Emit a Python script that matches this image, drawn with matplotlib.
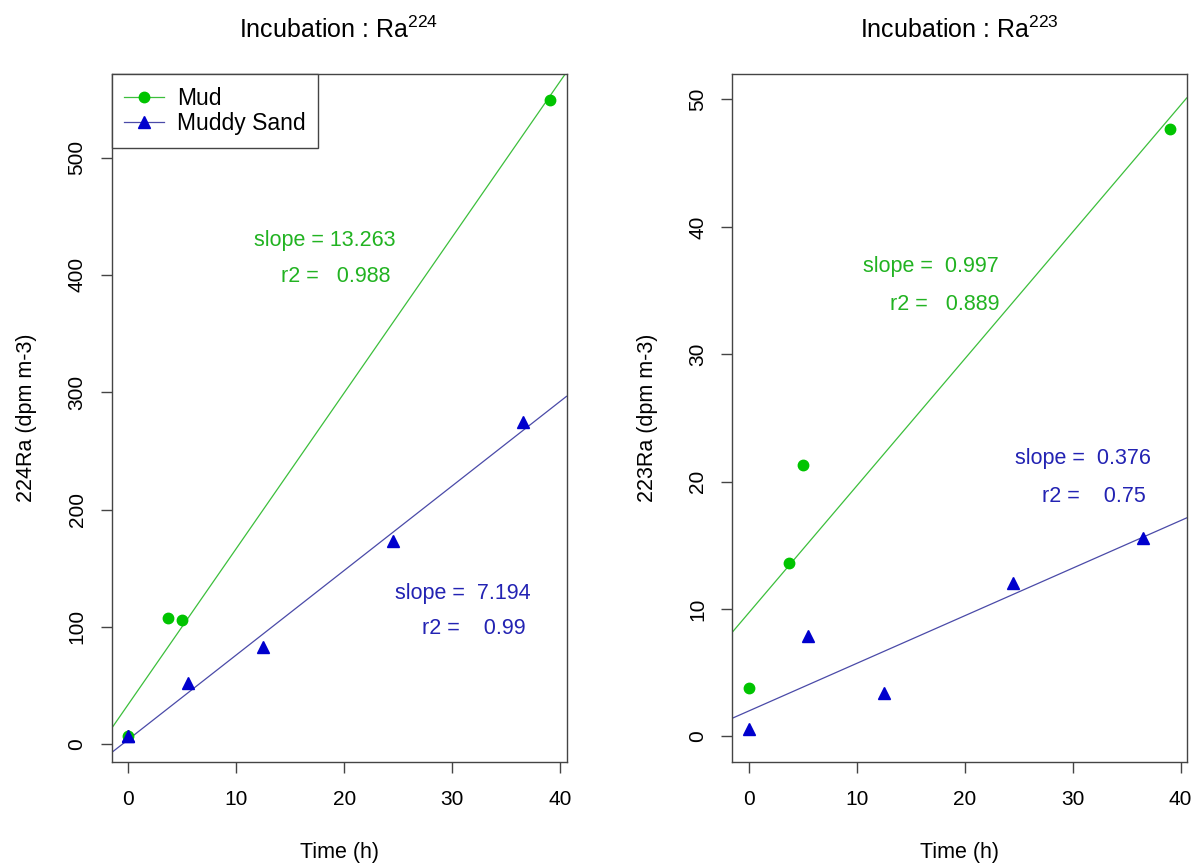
import numpy as np
import matplotlib
matplotlib.use("Agg")
import matplotlib.pyplot as plt
from matplotlib.lines import Line2D

plt.rcParams['font.family'] = ['Liberation Sans', 'DejaVu Sans']
plt.rcParams['mathtext.fontset'] = 'custom'
plt.rcParams['mathtext.rm'] = 'Liberation Sans'
plt.rcParams['mathtext.it'] = 'Liberation Sans'

# ---- data ----
mud_time = [0, 3.7, 5.0, 39.0]
sand_time = [0, 5.5, 12.5, 24.5, 36.5]

ra224_mud = [7.0, 107.7, 106.3, 549.0]
ra224_sand = [7.0, 52.0, 83.0, 173.0, 275.0]

ra223_mud = [3.8, 13.6, 21.3, 47.7]
ra223_sand = [0.6, 7.9, 3.4, 12.0, 15.6]

series_names = ["Mud", "Muddy Sand"]
titles = [r"Incubation : Ra$^{224}$", r"Incubation : Ra$^{223}$"]
ylabels = ["224Ra (dpm m-3)", "223Ra (dpm m-3)"]
xlabel = "Time (h)"

stats224 = [("slope = 13.263", "r2 =   0.988"), ("slope =  7.194", "r2 =    0.99")]
stats223 = [("slope =  0.997", "r2 =   0.889"), ("slope =  0.376", "r2 =    0.75")]

# ---- styling ----
pt_green = '#00c400'
pt_blue = '#0000cd'
ln_green = '#3cbf3c'
ln_blue = '#4a4aa8'
tx_green = '#22b322'
tx_blue = '#2323b3'
spine_col = '#444444'

fig = plt.figure(figsize=(12.01, 8.63), dpi=100)
W, H = 1201, 863

def make_ax(x0, x1, y0, y1):
    return fig.add_axes([x0 / W, 1 - y1 / H, (x1 - x0) / W, (y1 - y0) / H])

ax1 = make_ax(111.5, 566.5, 74, 762)
ax2 = make_ax(732.3, 1186.7, 74, 762)

panels = [
    (ax1, ra224_mud, ra224_sand, titles[0], ylabels[0], (-15.1, 571.2),
     [0, 100, 200, 300, 400, 500], stats224,
     [(11.6, 424.5), (14.1, 394.0)], [(24.67, 124.2), (27.15, 93.8)]),
    (ax2, ra223_mud, ra223_sand, titles[1], ylabels[1], (-2.02, 52.0),
     [0, 10, 20, 30, 40, 50], stats223,
     [(10.58, 36.47), (13.06, 33.46)], [(24.66, 21.37), (27.14, 18.36)]),
]

TRI_MS = 8.5
CIR_MS = 7.5

for ax, ymud, ysand, title, ylab, ylim, yticks, stats, gpos, bpos in panels:
    # regression lines
    sm, im = np.polyfit(mud_time, ymud, 1)
    ss, is_ = np.polyfit(sand_time, ysand, 1)
    ax.axline((0, im), slope=sm, color=ln_green, lw=0.9, zorder=2)
    ax.axline((0, is_), slope=ss, color=ln_blue, lw=0.9, zorder=2)
    # points
    ax.plot(sand_time, ysand, linestyle='none', marker='^', ms=TRI_MS,
            color=pt_blue, zorder=3)
    ax.plot(mud_time, ymud, linestyle='none', marker='o', ms=CIR_MS,
            color=pt_green, zorder=3)
    if ax is ax1:
        # mud point at t=0 is hidden under the triangle in the reference
        ax.plot(sand_time[:1], ysand[:1], linestyle='none', marker='^', ms=TRI_MS,
                color=pt_blue, zorder=4)

    ax.set_xlim(-1.56, 40.56)
    ax.set_ylim(*ylim)
    ax.set_xticks([0, 10, 20, 30, 40])
    ax.set_yticks(yticks)
    ax.tick_params(axis='both', direction='out', length=8, width=1.0,
                   color=spine_col, labelsize=15, labelcolor='black')
    ax.tick_params(axis='x', pad=12)
    ax.tick_params(axis='y', pad=10)
    for lab in ax.get_yticklabels():
        lab.set_rotation(90)
        lab.set_va('center')
    for sp in ax.spines.values():
        sp.set_color(spine_col)
        sp.set_linewidth(1.0)

    ax.set_title(title, fontsize=18, pad=26)
    ax.set_xlabel(xlabel, fontsize=15.5, labelpad=24)
    ax.set_ylabel(ylab, fontsize=15.5, labelpad=22)

    ax.text(gpos[0][0], gpos[0][1], stats[0][0], color=tx_green, fontsize=15.5,
            ha='left', va='baseline')
    ax.text(gpos[1][0], gpos[1][1], stats[0][1], color=tx_green, fontsize=15.5,
            ha='left', va='baseline')
    ax.text(bpos[0][0], bpos[0][1], stats[1][0], color=tx_blue, fontsize=15.5,
            ha='left', va='baseline')
    ax.text(bpos[1][0], bpos[1][1], stats[1][1], color=tx_blue, fontsize=15.5,
            ha='left', va='baseline')

handles = [
    Line2D([], [], color=ln_green, lw=0.9, marker='o', ms=CIR_MS,
           markerfacecolor=pt_green, markeredgecolor=pt_green),
    Line2D([], [], color=ln_blue, lw=0.9, marker='^', ms=TRI_MS,
           markerfacecolor=pt_blue, markeredgecolor=pt_blue),
]
leg = ax1.legend(handles, series_names, loc='upper left', bbox_to_anchor=(0, 1),
                 borderaxespad=0, fontsize=16.5, frameon=True, fancybox=False,
                 edgecolor=spine_col, handlelength=1.75, handletextpad=0.55,
                 labelspacing=0.1, borderpad=0.55)
leg.get_frame().set_linewidth(1.0)
leg.get_frame().set_alpha(1)

fig.savefig("out.png", dpi=100)
